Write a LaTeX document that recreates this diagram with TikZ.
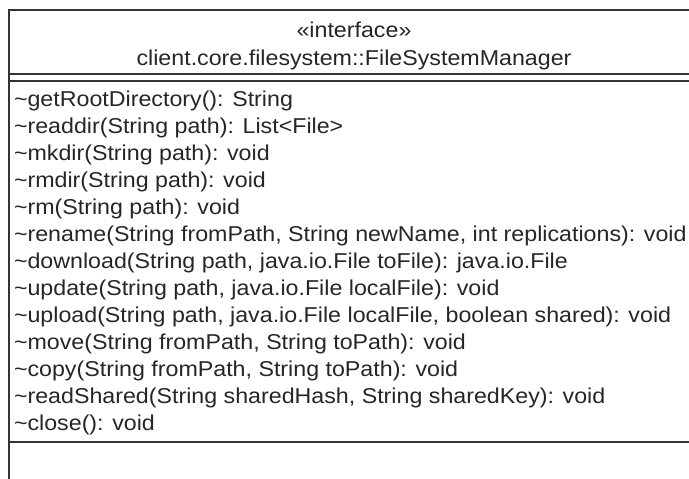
\documentclass[tikz,border=0pt]{standalone}
\usepackage{fontspec}
\setmainfont{Liberation Sans}[FakeStretch=1.08]
\usetikzlibrary{positioning}
\tikzset{every node/.append style={inner sep=0pt, outer sep=0pt}}
\tikzset{umlline/.style={line width=1.1pt, black!80}}
\tikzset{hdrtext/.style={anchor=base, font=\fontsize{21.5}{26}\selectfont, text=black!85}}
\tikzset{optext/.style={anchor=base west, font=\fontsize{21.5}{26}\selectfont, text=black!85}}

\begin{document}
\begin{tikzpicture}[x=1pt,y=-1pt]
      \useasboundingbox (0,0) rectangle (689,479);
      \clip (0,0) rectangle (689,479);
      \fill[white] (0,0) rectangle (689,479);
      % class box
      \draw[umlline] (9,490) -- (9,10) -- (699,10) -- (699,490);
      \draw[umlline] (9,74) -- (699,74);
      \draw[umlline] (9,81) -- (699,81);
      \draw[umlline] (9,442) -- (699,442);
      % header
      \node[hdrtext] (stereo) at (354,37) {«interface»};
      \node[hdrtext] (cname) at (354,65) {client.core.filesystem::FileSystemManager};
      % operations
      \node[optext] (op1) at (14,106) {\textasciitilde getRootDirectory(): String};
      \node[optext] (op2) at (14,133) {\textasciitilde readdir(String path): List<File>};
      \node[optext] (op3) at (14,160) {\textasciitilde mkdir(String path): void};
      \node[optext] (op4) at (14,187) {\textasciitilde rmdir(String path): void};
      \node[optext] (op5) at (14,214) {\textasciitilde rm(String path): void};
      \node[optext] (op6) at (14,241) {\textasciitilde rename(String fromPath, String newName, int replications): void};
      \node[optext] (op7) at (14,268) {\textasciitilde download(String path, java.io.File toFile): java.io.File};
      \node[optext] (op8) at (14,295) {\textasciitilde update(String path, java.io.File localFile): void};
      \node[optext] (op9) at (14,322) {\textasciitilde upload(String path, java.io.File localFile, boolean shared): void};
      \node[optext] (op10) at (14,349) {\textasciitilde move(String fromPath, String toPath): void};
      \node[optext] (op11) at (14,376) {\textasciitilde copy(String fromPath, String toPath): void};
      \node[optext] (op12) at (14,403) {\textasciitilde readShared(String sharedHash, String sharedKey): void};
      \node[optext] (op13) at (14,430) {\textasciitilde close(): void};
\end{tikzpicture}
\end{document}
